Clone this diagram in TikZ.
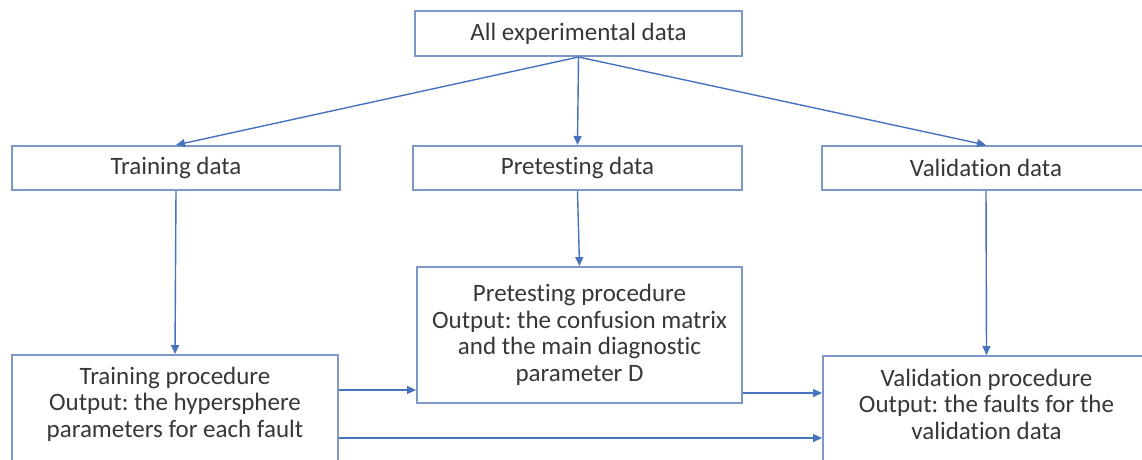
\documentclass[tikz,border=0pt]{standalone}
\usepackage{fontspec}
\setmainfont{Carlito}[Ligatures=NoCommon]
\usetikzlibrary{arrows.meta}
\definecolor{boxline}{RGB}{124,151,200}
\definecolor{arrowc}{RGB}{70,114,190}
\definecolor{txt}{RGB}{55,55,55}
\frenchspacing
\begin{document}
\begin{tikzpicture}[x=1pt,y=-1pt,
  box/.style={draw=boxline,line width=2pt,fill=white,inner sep=0pt,
    font=\fontsize{25}{26.5}\selectfont,text=txt,align=center},
  lbl/.style={inner sep=0pt,font=\fontsize{25}{26.5}\selectfont,text=txt,align=center},
  conn/.style={draw=arrowc,line width=1.4pt,-{Triangle[length=9pt,width=8pt]}}]
\useasboundingbox (0,0) rectangle (1142,459);
\clip (0,0) rectangle (1142,459);
\fill[white] (0,0) rectangle (1142,459);
\node[box,minimum width=327,minimum height=45] (all) at (578.5,33.5) {All experimental data};
\node[box,minimum width=328,minimum height=44] (td) at (176,168) {Training data};
\node[box,minimum width=329,minimum height=44] (pd) at (577.5,168) {Pretesting data};
\node[box,minimum width=328,minimum height=44] (vd) at (986,168) {Validation data};
\node[box,minimum width=325,minimum height=136] (pp) at (579.5,335) {Pretesting procedure\\Output: the confusion matrix\\and the main diagnostic\\parameter D};
\node[box,minimum width=326,minimum height=150,anchor=north] (tp) at (175,354) {};
\node[lbl] (tpt) at (175,404) {Training procedure\\Output: the hypersphere\\parameters for each fault};
\node[box,minimum width=327,minimum height=150,anchor=north] (vp) at (986.5,355) {};
\node[lbl] (vpt) at (986.5,404) {Validation procedure\\Output: the faults for the\\validation data};
\draw[conn] (all.south) -- (td.north);
\draw[conn] (all.south) -- (pd.north);
\draw[conn] (all.south) -- (vd.north);
\draw[conn] (td.south) -- (tp.north);
\draw[conn] (pd.south) -- (pp.north);
\draw[conn] (vd.south) -- (vp.north);
\draw[conn] (tp.east |- 0,390) -- (pp.west |- 0,390);
\draw[conn] (pp.east |- 0,393) -- (vp.west |- 0,393);
\draw[conn] (tp.east |- 0,438) -- (vp.west |- 0,438);
\end{tikzpicture}
\end{document}
